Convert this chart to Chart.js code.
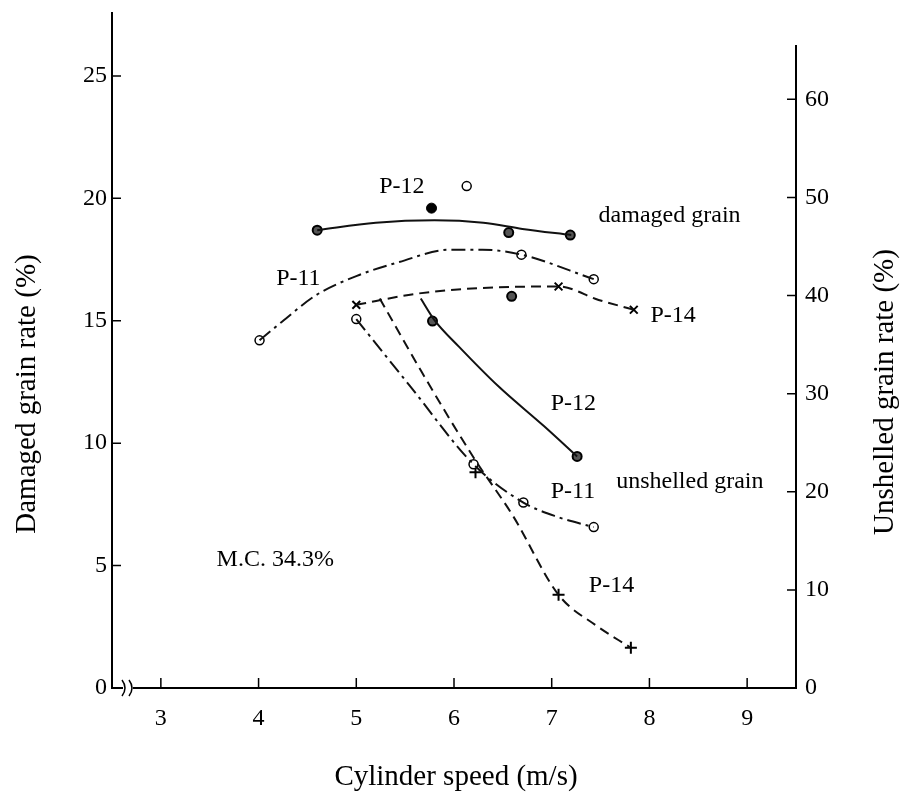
<!DOCTYPE html>
<html>
<head>
<meta charset="utf-8">
<script src="https://cdn.jsdelivr.net/npm/chart.js@4.4.0/dist/chart.umd.min.js"></script>
<style>
  html, body { margin: 0; padding: 0; background: #fff; }
  #chart { display: block; }
</style>
</head>
<body>
<canvas id="chart" width="912" height="805"></canvas>
<script>
// tick values
const xTicks = [3, 4, 5, 6, 7, 8, 9];
const damagedTicks = [0, 5, 10, 15, 20, 25];
const unshelledTicks = [0, 10, 20, 30, 40, 50, 60];

// damaged grain rate (%) - left axis, fitted curves [speed, rate]
const damagedP12Curve = [[4.6, 18.7], [5.2, 19.0], [5.8, 19.1], [6.3, 19.0], [6.7, 18.75], [7.2, 18.5]];
const damagedP11Curve = [[4.01, 14.2], [4.24, 14.96], [4.59, 16.05], [5.03, 16.87], [5.44, 17.4], [5.95, 17.9], [6.29, 17.9], [6.69, 17.7], [7.43, 16.7]];
const damagedP14Curve = [[5.0, 15.65], [5.61, 16.1], [6.29, 16.34], [7.07, 16.4], [7.48, 15.85], [7.84, 15.45]];

// damaged grain measured points
const damagedP12Points = [[4.6, 18.7], [6.56, 18.6], [7.19, 18.5], [6.59, 16.0]];
const damagedP12Filled = [[5.77, 19.6]];
const damagedP11Points = [[4.01, 14.2], [6.13, 20.5], [6.69, 17.7], [7.43, 16.7]];
const damagedP14Points = [[5.0, 15.65], [7.07, 16.4], [7.84, 15.45]];

// unshelled grain rate (%) - right axis, fitted curves
const unshelledP12Curve = [[5.66, 39.7], [5.8, 37.5], [6.05, 34.8], [6.46, 30.7], [6.92, 26.7], [7.26, 23.6]];
const unshelledP11Curve = [[5.0, 37.6], [5.54, 30.9], [6.2, 22.8], [6.71, 18.9], [7.07, 17.4], [7.43, 16.4]];
const unshelledP14Curve = [[5.24, 39.7], [5.67, 32.2], [6.2, 23.5], [6.6, 17.6], [7.07, 9.5], [7.45, 6.4], [7.81, 4.1]];

// unshelled grain measured points
const unshelledP12Points = [[5.78, 37.4], [7.26, 23.6]];
const unshelledP11Points = [[5.0, 37.6], [6.2, 22.8], [6.71, 18.9], [7.43, 16.4]];
const unshelledP14Points = [[6.22, 22.0], [7.07, 9.5], [7.81, 4.1]];

// text placed in data coordinates (speed, damaged rate)
const notes = [
  ["P-12", 5.235, 20.22],
  ["damaged grain", 7.48, 19.04],
  ["P-11", 4.18, 16.46],
  ["P-14", 8.01, 14.95],
  ["P-12", 6.99, 11.36],
  ["P-11", 6.99, 7.76],
  ["unshelled grain", 7.66, 8.17],
  ["P-14", 7.38, 3.92],
  ["M.C. 34.3%", 3.57, 4.98]
];

const SERIF = "'Liberation Serif', 'Times New Roman', serif";
const toXY = arr => arr.map(([x, y]) => ({ x: x, y: y }));

function curve(data, axis, dash) {
  return {
    data: toXY(data),
    yAxisID: axis,
    showLine: true,
    pointRadius: 0,
    borderColor: "#111",
    borderWidth: 2,
    borderDash: dash,
    cubicInterpolationMode: "monotone",
    fill: false
  };
}

function marks(data, axis, style, radius, bg, bw) {
  return {
    data: toXY(data),
    yAxisID: axis,
    showLine: false,
    pointStyle: style,
    pointRadius: radius,
    pointBackgroundColor: bg,
    pointBorderColor: "#000",
    pointBorderWidth: bw
  };
}

const DASHDOT = [14, 5, 3, 5];
const DASHED = [10, 6];

const decorations = {
  id: "decorations",
  afterDraw(chart) {
    const ctx = chart.ctx;
    const area = chart.chartArea;
    const sx = chart.scales.x, sy = chart.scales.y, sy2 = chart.scales.y2;
    ctx.save();
    ctx.strokeStyle = "#000";
    ctx.fillStyle = "#000";
    ctx.lineWidth = 1.5;

    // inward tick marks
    ctx.beginPath();
    xTicks.forEach(v => {
      const px = sx.getPixelForValue(v);
      ctx.moveTo(px, area.bottom);
      ctx.lineTo(px, area.bottom - 10);
    });
    damagedTicks.forEach(v => {
      const py = sy.getPixelForValue(v);
      ctx.moveTo(area.left, py);
      ctx.lineTo(area.left + 9, py);
    });
    unshelledTicks.forEach(v => {
      const py = sy2.getPixelForValue(v);
      ctx.moveTo(area.right, py);
      ctx.lineTo(area.right - 9, py);
    });
    ctx.stroke();

    // right axis line (starts a bit lower than the left one)
    ctx.lineWidth = 2;
    ctx.beginPath();
    ctx.moveTo(area.right, area.top + 32);
    ctx.lineTo(area.right, area.bottom + 1);
    ctx.stroke();

    // axis break on the x axis
    ctx.fillStyle = "#fff";
    ctx.fillRect(area.left + 11, area.bottom - 3, 10, 6);
    ctx.lineWidth = 1.5;
    [area.left + 12, area.left + 19].forEach(bx => {
      ctx.beginPath();
      ctx.moveTo(bx - 2, area.bottom - 8);
      ctx.quadraticCurveTo(bx + 4, area.bottom, bx - 2, area.bottom + 8);
      ctx.stroke();
    });

    // annotations
    ctx.fillStyle = "#000";
    ctx.font = "24px " + SERIF;
    ctx.textAlign = "left";
    ctx.textBaseline = "alphabetic";
    notes.forEach(([t, x, y]) => {
      ctx.fillText(t, sx.getPixelForValue(x), sy.getPixelForValue(y));
    });

    // axis titles
    ctx.font = "29px " + SERIF;
    ctx.textAlign = "center";
    ctx.textBaseline = "middle";
    ctx.fillText("Cylinder speed (m/s)", (area.left + area.right) / 2 + 2, 777);
    ctx.translate(27, 394);
    ctx.rotate(-Math.PI / 2);
    ctx.fillText("Damaged grain rate (%)", 0, 0);
    ctx.setTransform(1, 0, 0, 1, 0, 0);
    ctx.translate(885, 392);
    ctx.rotate(-Math.PI / 2);
    ctx.fillText("Unshelled grain rate (%)", 0, 0);
    ctx.restore();
  }
};

const tickFont = { family: SERIF, size: 24 };

function fitY(width) {
  return s => {
    s.width = width;
    s.paddingTop = 0;
    s.paddingBottom = 0;
  };
}

new Chart(document.getElementById("chart"), {
  type: "scatter",
  data: {
    datasets: [
      curve(damagedP12Curve, "y", []),
      curve(damagedP11Curve, "y", DASHDOT),
      curve(damagedP14Curve, "y", DASHED),
      curve(unshelledP12Curve, "y2", []),
      curve(unshelledP11Curve, "y2", DASHDOT),
      curve(unshelledP14Curve, "y2", DASHED),
      marks(damagedP12Points, "y", "circle", 4.5, "#555", 2),
      marks(damagedP12Filled, "y", "circle", 5, "#000", 1),
      marks(damagedP11Points, "y", "circle", 4.5, "#fff", 1.5),
      marks(damagedP14Points, "y", "crossRot", 5.5, "#000", 2),
      marks(unshelledP12Points, "y2", "circle", 4.5, "#555", 2),
      marks(unshelledP11Points, "y2", "circle", 4.5, "#fff", 1.5),
      marks(unshelledP14Points, "y2", "cross", 6, "#000", 2)
    ]
  },
  options: {
    responsive: false,
    animation: false,
    layout: { padding: { top: 13, left: 0, right: 0, bottom: 0 } },
    plugins: { legend: { display: false }, tooltip: { enabled: false } },
    scales: {
      x: {
        type: "linear",
        min: 2.5,
        max: 9.5,
        afterFit: s => { s.height = 117; s.paddingLeft = 0; s.paddingRight = 0; },
        afterBuildTicks: s => { s.ticks = xTicks.map(v => ({ value: v })); },
        grid: { drawOnChartArea: false, drawTicks: false },
        border: { display: true, color: "#000", width: 2 },
        ticks: { color: "#000", font: tickFont, padding: 16 }
      },
      y: {
        position: "left",
        min: 0,
        max: 27.57,
        afterFit: fitY(112),
        afterBuildTicks: s => { s.ticks = damagedTicks.map(v => ({ value: v })); },
        grid: { drawOnChartArea: false, drawTicks: false },
        border: { display: true, color: "#000", width: 2 },
        ticks: { color: "#000", font: tickFont, padding: 5 }
      },
      y2: {
        position: "right",
        min: 0,
        max: 68.8,
        afterFit: fitY(116),
        afterBuildTicks: s => { s.ticks = unshelledTicks.map(v => ({ value: v })); },
        grid: { drawOnChartArea: false, drawTicks: false },
        border: { display: false },
        ticks: { color: "#000", font: tickFont, padding: 9 }
      }
    }
  },
  plugins: [decorations]
});
</script>
</body>
</html>
